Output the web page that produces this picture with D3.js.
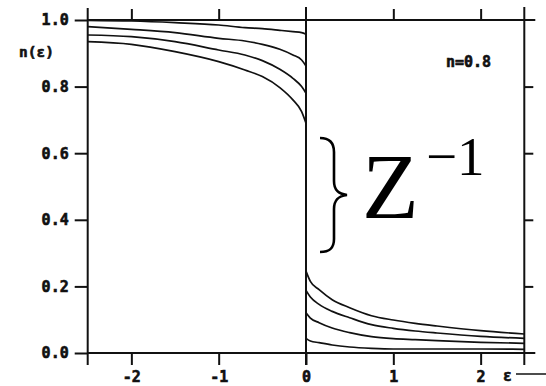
<!DOCTYPE html>
<html>
<head>
<meta charset="utf-8">
<script src="https://cdn.jsdelivr.net/npm/d3@7"></script>
<style>
  html, body { margin: 0; padding: 0; background: #fff; }
  svg { display: block; }
  .mono { font-family: "DejaVu Sans Mono", monospace; font-weight: bold; fill: #111; stroke: #111; stroke-width: 0.6px; }
</style>
</head>
<body>
<svg id="chart" width="546" height="386"></svg>
<script>
// Occupation n(ε) below (ε<0) and above (ε>0) the jump at ε = 0, four curves for n = 0.8
const epsLeft  = [-2.5, -2.0, -1.5, -1.0, -0.7, -0.5, -0.3, -0.15, -0.05, 0];
const leftA = [0.999, 0.997, 0.992, 0.985, 0.977, 0.974, 0.969, 0.965, 0.962, 0.957];
const leftB = [0.980, 0.972, 0.962, 0.945, 0.937, 0.927, 0.912, 0.895, 0.880, 0.862];
const leftC = [0.955, 0.950, 0.935, 0.910, 0.895, 0.878, 0.852, 0.825, 0.800, 0.780];
const leftD = [0.935, 0.927, 0.905, 0.875, 0.850, 0.830, 0.797, 0.760, 0.725, 0.690];

const epsRight = [0, 0.05, 0.15, 0.3, 0.5, 0.75, 1.0, 1.25, 1.5, 2.0, 2.5];
const rightA = [0.246, 0.215, 0.190, 0.160, 0.136, 0.112, 0.099, 0.089, 0.081, 0.067, 0.057];
const rightB = [0.188, 0.168, 0.146, 0.125, 0.106, 0.085, 0.074, 0.066, 0.060, 0.050, 0.044];
const rightC = [0.121, 0.105, 0.091, 0.075, 0.061, 0.049, 0.043, 0.040, 0.037, 0.032, 0.029];
const rightD = [0.044, 0.036, 0.031, 0.024, 0.018, 0.014, 0.012, 0.012, 0.012, 0.012, 0.011];

const xTicks = [-2, -1, 0, 1, 2];
const xTopTicks = [-2, -1, 1, 2];
const yTicks = [0, 0.2, 0.4, 0.6, 0.8, 1.0];
const yRightTicks = [0.2, 0.4, 0.6, 0.8];
const xDomain = [-2.5, 2.5];
const yDomain = [0, 1];

const svg = d3.select("#chart");
const x = d3.scaleLinear().domain(xDomain).range([87.7, 524.3]);
const y = d3.scaleLinear().domain(yDomain).range([353, 20]);

const ink = "#111";

// frame lines, extended slightly past the plot box like the original plotter output
const frame = svg.append("g").attr("stroke", ink).attr("stroke-width", 2).attr("fill", "none");
frame.append("line").attr("x1", x(-2.5)).attr("x2", x(-2.5)).attr("y1", y(1) - 12).attr("y2", y(0) + 12);
frame.append("line").attr("x1", x(2.5)).attr("x2", x(2.5)).attr("y1", y(1) - 13).attr("y2", y(0) + 12);
frame.append("line").attr("x1", x(0)).attr("x2", x(0)).attr("y1", y(1) - 13).attr("y2", y(0) + 12);
frame.append("line").attr("x1", x(-2.5)).attr("x2", x(2.5) + 11).attr("y1", y(1)).attr("y2", y(1));
frame.append("line").attr("x1", x(-2.5)).attr("x2", x(2.5) + 11).attr("y1", y(0)).attr("y2", y(0));

function styleAxis(g) {
  g.select(".domain").remove();
  g.selectAll(".tick line").attr("stroke", ink).attr("stroke-width", 2);
  g.selectAll(".tick text").attr("class", "mono").style("font-size", "15px");
}

// left axis with labels
svg.append("g")
  .attr("transform", `translate(${x(-2.5)},0)`)
  .call(d3.axisLeft(y).tickValues(yTicks).tickSize(13).tickPadding(6).tickFormat(d3.format(".1f")))
  .call(styleAxis);

// bottom axis with labels
svg.append("g")
  .attr("transform", `translate(0,${y(0)})`)
  .call(d3.axisBottom(x).tickValues(xTicks).tickSize(12).tickPadding(6).tickFormat(d3.format("d")))
  .call(styleAxis)
  .call(g => g.selectAll(".tick text").text(d => d < 0 ? "-" + Math.abs(d) : d));

// top and right ticks, unlabeled
svg.append("g")
  .attr("transform", `translate(0,${y(1)})`)
  .call(d3.axisTop(x).tickValues(xTopTicks).tickSize(11).tickFormat(""))
  .call(styleAxis);
svg.append("g")
  .attr("transform", `translate(${x(2.5)},0)`)
  .call(d3.axisRight(y).tickValues(yRightTicks).tickSize(9).tickFormat(""))
  .call(styleAxis);

// axis titles
svg.append("text").attr("class", "mono").style("font-size", "14.5px")
  .attr("x", 19).attr("y", 57).text("n(ε)");
svg.append("text").attr("class", "mono").style("font-size", "15px")
  .attr("x", 503).attr("y", 381).text("ε");
svg.append("line").attr("stroke", ink).attr("stroke-width", 1.5)
  .attr("x1", 516).attr("x2", 546).attr("y1", 374).attr("y2", 374);

svg.append("text").attr("class", "mono").style("font-size", "15px")
  .attr("x", 446).attr("y", 67).text("n=0.8");

// curves
const line = d3.line().x(d => x(d[0])).y(d => y(d[1])).curve(d3.curveMonotoneX);
const curves = [
  [epsLeft, leftA], [epsLeft, leftB], [epsLeft, leftC], [epsLeft, leftD],
  [epsRight, rightA], [epsRight, rightB], [epsRight, rightC], [epsRight, rightD]
];
svg.append("g").selectAll("path").data(curves).join("path")
  .attr("d", ([xs, ys]) => line(xs.map((e, i) => [e, ys[i]])))
  .attr("fill", "none").attr("stroke", ink).attr("stroke-width", 1.7);

// brace spanning the jump, with Z^-1 annotation
svg.append("path")
  .attr("d", "M320,138 C330,138 334,143 334,152 L334,181 C334,190 338,194 347,195 C338,196 334,200 334,209 L334,239 C334,248 330,252 320,252")
  .attr("fill", "none").attr("stroke", "#000").attr("stroke-width", 2.6);

const zt = svg.append("text").attr("font-family", "'Liberation Serif', 'Times New Roman', serif").attr("fill", "#000");
zt.append("tspan").attr("x", 362).attr("y", 218).style("font-size", "93px").text("Z");
zt.append("tspan").attr("x", 426).attr("y", 175).style("font-size", "55px").text("−1");
</script>
</body>
</html>
